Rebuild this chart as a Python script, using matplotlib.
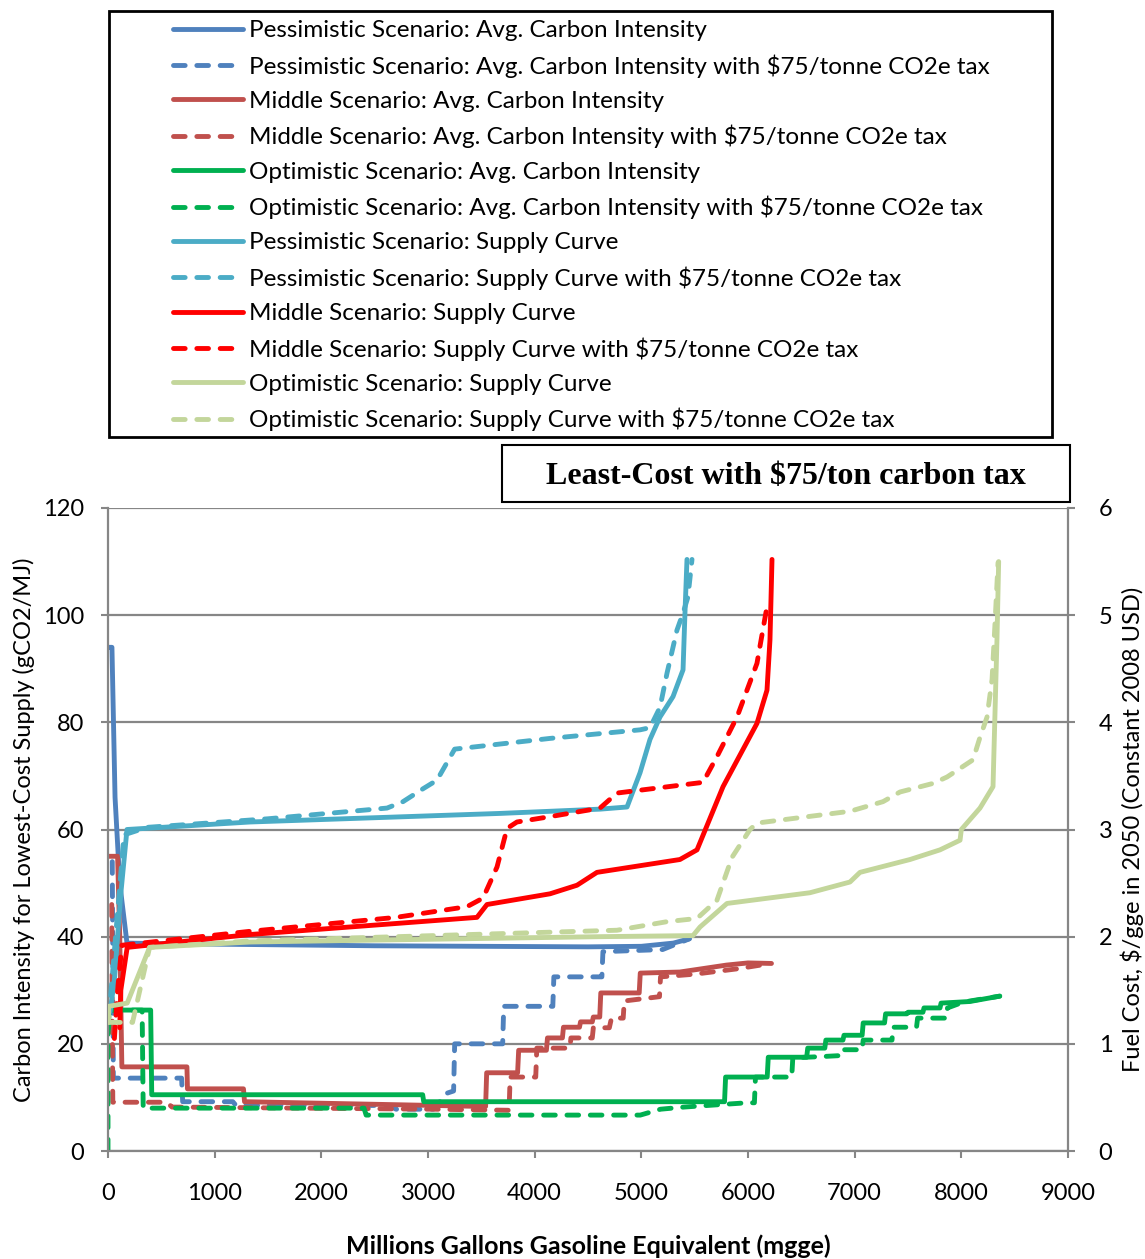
import numpy as np
import matplotlib.pyplot as plt
from matplotlib.patches import Rectangle

plt.rcParams['font.family'] = ['Lato', 'DejaVu Sans']

# --- average carbon intensity (gCO2/MJ), left axis ---
pess_ci_x = [10, 37, 66, 110, 178, 500, 1500, 2500, 3500, 4500, 5000, 5300, 5450]
pess_ci_y = [94, 94, 66, 50, 38.8, 38.7, 38.5, 38.3, 38.2, 38.1, 38.2, 38.8, 39.6]

pess_ci_tax_x = [40, 45, 50, 690, 700, 1170, 1200, 2640, 2700, 3050, 3180, 3240, 3250,
                 3700, 3710, 4170, 4180, 4630, 4640, 5200, 5450]
pess_ci_tax_y = [54, 35, 13.6, 13.6, 9.2, 9.2, 8.5, 8.5, 7.8, 7.8, 10.8, 11.2, 20,
                 20, 27, 27, 32.5, 32.5, 37.2, 37.6, 39.6]

mid_ci_x = [0, 90, 110, 130, 740, 745, 1270, 1280, 3050, 3540, 3550, 3840, 3850, 4110, 4120,
            4260, 4270, 4420, 4430, 4540, 4550, 4610, 4620, 4980, 4990, 5360, 5800, 6000, 6220]
mid_ci_y = [55, 55, 40, 15.7, 15.7, 11.6, 11.6, 9.2, 8.5, 8.3, 14.6, 14.6, 18.8, 18.8, 21.1,
            21.1, 23.1, 23.1, 24.1, 24.1, 25, 25, 29.5, 29.5, 33.2, 33.4, 34.7, 35.1, 35.0]

mid_ci_tax_x = [35, 40, 45, 550, 600, 3050, 3760, 3770, 4010, 4020, 4330, 4340, 4540, 4550,
                4700, 4720, 4830, 4840, 5170, 5180, 5500, 5900, 6150]
mid_ci_tax_y = [46, 25, 9.1, 9.1, 8.2, 7.8, 7.6, 13.8, 13.8, 19.2, 19.2, 21.1, 21.1, 23,
                23, 24.8, 24.8, 28, 28.8, 32.5, 33, 34, 34.8]

opt_ci_x = [5, 10, 400, 410, 2950, 2960, 5780, 5790, 6180, 6190, 6550, 6560, 6720, 6730,
            6890, 6900, 7070, 7080, 7280, 7290, 7490, 7500, 7640, 7650, 7800, 7810, 8080, 8360]
opt_ci_y = [23, 26.3, 26.3, 10.5, 10.5, 9.2, 9.2, 13.8, 13.8, 17.5, 17.5, 19.2, 19.2, 20.7,
            20.7, 21.6, 21.6, 23.9, 23.9, 25.6, 25.6, 25.9, 25.9, 26.7, 26.7, 27.6, 27.9, 28.9]

opt_ci_tax_x = [0, 0, 20, 320, 330, 2400, 2420, 4990, 5180, 5400, 5990, 6060, 6070, 6410,
                6420, 6670, 6860, 6870, 7070, 7080, 7350, 7360, 7580, 7590, 7860, 7870, 8020, 8360]
opt_ci_tax_y = [0, 22, 26.3, 26.3, 8.0, 8.0, 6.7, 6.7, 7.8, 8.2, 9, 9, 13.8, 13.8,
                17.4, 17.6, 17.8, 18.9, 18.9, 20.7, 20.7, 23.1, 23.1, 24.8, 24.8, 26.7, 27.8, 28.9]

# --- supply curves ($/gge), right axis ---
pess_sc_x = [20, 60, 120, 178, 1331, 3675, 4613, 4866, 4988, 5081, 5175, 5297, 5391, 5409, 5428]
pess_sc_y = [1.3, 1.6, 2.4, 3.0, 3.07, 3.15, 3.19, 3.21, 3.53, 3.84, 4.05, 4.24, 4.49, 5.02, 5.52]

pess_sc_tax_x = [25, 150, 366, 1500, 2616, 2766, 2953, 3084, 3250, 4144, 4988, 5081, 5175,
                 5241, 5334, 5391, 5437, 5475]
pess_sc_tax_y = [1.45, 2.95, 3.02, 3.1, 3.2, 3.26, 3.38, 3.46, 3.75, 3.85, 3.93, 3.95, 4.14,
                 4.46, 4.86, 5.02, 5.17, 5.52]

mid_sc_x = [110, 120, 180, 1331, 3459, 3553, 4144, 4397, 4584, 5362, 5522, 5766, 6084, 6178, 6206, 6225]
mid_sc_y = [1.15, 1.5, 1.9, 2.02, 2.18, 2.3, 2.4, 2.48, 2.6, 2.72, 2.81, 3.4, 3.99, 4.3, 4.77, 5.52]

mid_sc_tax_x = [60, 90, 130, 1331, 2700, 3366, 3516, 3647, 3741, 3834, 4144, 4613, 4772,
                5578, 5709, 5897, 6084, 6178]
mid_sc_tax_y = [1.05, 1.5, 1.92, 2.05, 2.18, 2.28, 2.36, 2.65, 3.01, 3.07, 3.12, 3.2, 3.34,
                3.44, 3.68, 4.05, 4.55, 5.08]

opt_sc_x = [5, 5, 180, 390, 1331, 4613, 5484, 5550, 5803, 6581, 6956, 7050, 7519, 7800,
            7988, 8000, 8175, 8297, 8334, 8350]
opt_sc_y = [1.2, 1.35, 1.38, 1.9, 1.95, 2.0, 2.01, 2.09, 2.31, 2.41, 2.51, 2.6, 2.72, 2.81,
            2.9, 3.0, 3.2, 3.4, 4.77, 5.5]

opt_sc_tax_x = [5, 230, 390, 1331, 4772, 5241, 5522, 5709, 5850, 6019, 6084, 6956, 7266,
                7425, 7734, 7866, 8109, 8175, 8241, 8288, 8316, 8344]
opt_sc_tax_y = [1.2, 1.2, 1.9, 1.96, 2.06, 2.14, 2.17, 2.34, 2.74, 3.0, 3.06, 3.17, 3.26,
                3.35, 3.43, 3.49, 3.65, 3.86, 4.05, 4.4, 4.93, 5.49]

labels = [
    'Pessimistic Scenario: Avg. Carbon Intensity',
    'Pessimistic Scenario: Avg. Carbon Intensity with $75/tonne CO2e tax',
    'Middle Scenario: Avg. Carbon Intensity',
    'Middle Scenario: Avg. Carbon Intensity with $75/tonne CO2e tax',
    'Optimistic Scenario: Avg. Carbon Intensity',
    'Optimistic Scenario: Avg. Carbon Intensity with $75/tonne CO2e tax',
    'Pessimistic Scenario: Supply Curve',
    'Pessimistic Scenario: Supply Curve with $75/tonne CO2e tax',
    'Middle Scenario: Supply Curve',
    'Middle Scenario: Supply Curve with $75/tonne CO2e tax',
    'Optimistic Scenario: Supply Curve',
    'Optimistic Scenario: Supply Curve with $75/tonne CO2e tax',
]

grey = '#868686'
lw = 3.5
dash = (2.4, 2.4)

fig = plt.figure(figsize=(11.45, 12.59), dpi=100)
ax = fig.add_axes([108 / 1145, 1 - 1151 / 1259, 960 / 1145, 643 / 1259])
ax2 = ax.twinx()


def draw(a, x, y, color, dashed):
    kw = dict(color=color, lw=lw, solid_joinstyle='round', solid_capstyle='round',
              dash_capstyle='round', dash_joinstyle='round')
    if dashed:
        kw['dashes'] = dash
    return a.plot(x, y, **kw)[0]


handles = [
    draw(ax, pess_ci_x, pess_ci_y, '#4F81BD', False),
    draw(ax, pess_ci_tax_x, pess_ci_tax_y, '#4F81BD', True),
    draw(ax, mid_ci_x, mid_ci_y, '#C0504D', False),
    draw(ax, mid_ci_tax_x, mid_ci_tax_y, '#C0504D', True),
    draw(ax, opt_ci_x, opt_ci_y, '#00B050', False),
    draw(ax, opt_ci_tax_x, opt_ci_tax_y, '#00B050', True),
    draw(ax2, pess_sc_x, pess_sc_y, '#4BACC6', False),
    draw(ax2, pess_sc_tax_x, pess_sc_tax_y, '#4BACC6', True),
    draw(ax2, mid_sc_x, mid_sc_y, '#FF0000', False),
    draw(ax2, mid_sc_tax_x, mid_sc_tax_y, '#FF0000', True),
    draw(ax2, opt_sc_x, opt_sc_y, '#C3D69B', False),
    draw(ax2, opt_sc_tax_x, opt_sc_tax_y, '#C3D69B', True),
]

ax.set_xlim(0, 9000)
ax.set_ylim(0, 120)
ax2.set_ylim(0, 6)
ax.set_xticks(np.arange(0, 9001, 1000))
ax.set_yticks(np.arange(0, 121, 20))
ax2.set_yticks(np.arange(0, 7, 1))

ax.set_axisbelow(True)
ax.yaxis.grid(True, color=grey, lw=1.6)
for s in ['top', 'right']:
    ax.spines[s].set_visible(False)
ax2.spines['top'].set_visible(False)
for s in ['left', 'bottom']:
    ax.spines[s].set_color(grey)
    ax.spines[s].set_linewidth(1.6)
    ax2.spines[s].set_visible(False)
ax2.spines['right'].set_color(grey)
ax2.spines['right'].set_linewidth(1.6)

ax.tick_params(axis='x', direction='out', length=5, width=1.5, color=grey, pad=18, labelsize=17)
ax.tick_params(axis='y', direction='out', length=5, width=1.5, color=grey, pad=12, labelsize=17)
ax2.tick_params(axis='y', direction='out', length=5, width=1.5, color=grey, pad=17, labelsize=17)

ax.set_xlabel('Millions Gallons Gasoline Equivalent (mgge)', fontsize=18, weight='bold', labelpad=22)
ax.set_ylabel('Carbon Intensity for Lowest-Cost Supply (gCO2/MJ)', fontsize=17, labelpad=6)
ax2.set_ylabel('Fuel Cost, $/gge in 2050 (Constant 2008 USD)', fontsize=17, labelpad=6)

# title box
fig.patches.append(Rectangle((502 / 1145, 1 - 502 / 1259), 568 / 1145, 57 / 1259,
                             transform=fig.transFigure, fill=False, ec='black', lw=1.5))
fig.text(786 / 1145, 1 - 477 / 1259, 'Least-Cost with $75/ton carbon tax',
         ha='center', va='center', family='Liberation Serif', weight='bold', fontsize=23)

# legend with its own frame
fig.patches.append(Rectangle((109 / 1145, 1 - 437 / 1259), 943 / 1145, 426 / 1259,
                             transform=fig.transFigure, fill=False, ec='black', lw=2))
fig.legend(handles, labels, loc='upper left', bbox_to_anchor=(173 / 1145, 1 - 20 / 1259),
           frameon=False, borderpad=0, borderaxespad=0, handlelength=2.88,
           handletextpad=0.25, labelspacing=0.54, fontsize=17.5)

fig.savefig('out.png', dpi=100)
